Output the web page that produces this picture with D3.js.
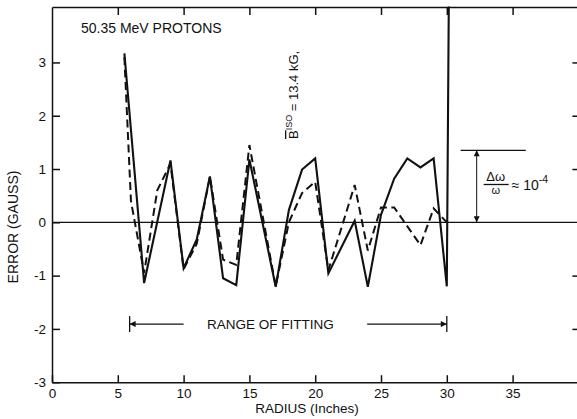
<!DOCTYPE html>
<html>
<head>
<meta charset="utf-8">
<script src="https://cdn.jsdelivr.net/npm/d3@7"></script>
<style>
  body { margin: 0; background: #fff; }
  svg { display: block; }
  text { font-family: "Liberation Sans", Arial, sans-serif; fill: #111; }
  .axis path, .axis line { stroke: #111; stroke-width: 1.5; }
  .axis text { font-size: 13.5px; fill: #111; }
</style>
</head>
<body>
<script>
// error curves (radius in inches, error in gauss)
var solidRadius = [5.5, 7, 9, 10, 11, 12, 13, 14, 15, 17, 18, 19, 20, 21, 23, 24, 25, 26, 27, 28, 29, 30, 30.15];
var solidError  = [3.17, -1.14, 1.16, -0.86, -0.32, 0.86, -1.05, -1.18, 1.18, -1.21, 0.23, 0.99, 1.2, -0.96, 0.03, -1.21, 0.14, 0.82, 1.2, 1.03, 1.2, -1.2, 4.05];

var dashedRadius = [5.5, 6, 7, 8, 9, 10, 11, 12, 13, 14, 15, 17, 18, 19, 20, 21, 23, 24, 25, 26, 28, 29, 30];
var dashedError  = [3.1, 0.4, -0.95, 0.6, 1.1, -0.88, -0.4, 0.86, -0.7, -0.8, 1.45, -1.2, 0.0, 0.55, 0.76, -0.9, 0.7, -0.53, 0.28, 0.28, -0.43, 0.26, 0.0];

var xTicks = [0, 5, 10, 15, 20, 25, 30, 35];
var yTicks = [-3, -2, -1, 0, 1, 2, 3];

var fitStart = 5.9, fitEnd = 30;

(function(){

var width = 577, height = 419;

var svg = d3.select("body").append("svg")
    .attr("width", width)
    .attr("height", height);

var x = d3.scaleLinear().domain([0, 40]).range([52, 578.4]);
var y = d3.scaleLinear().domain([-3, 4.04]).range([382.2, 7]);

//arrow head marker
svg.append("defs").append("marker")
    .attr("id", "head")
    .attr("viewBox", "0 0 10 10")
    .attr("refX", 10).attr("refY", 5)
    .attr("markerWidth", 10).attr("markerHeight", 6)
    .attr("markerUnits", "userSpaceOnUse")
    .attr("orient", "auto-start-reverse")
    .append("path")
    .attr("d", "M0,0L10,5L0,10z")
    .attr("fill", "#111");

//axes: ticks point inward like the original plate
svg.append("g").attr("class", "axis")
    .attr("transform", "translate(" + x(0) + ",0)")
    .call(d3.axisLeft(y).tickValues(yTicks).tickSizeInner(-8).tickSizeOuter(0)
        .tickPadding(6).tickFormat(function(d){ return String(d); }));

svg.append("g").attr("class", "axis")
    .attr("transform", "translate(0," + y(-3) + ")")
    .call(d3.axisBottom(x).tickValues(xTicks).tickSizeInner(-7).tickSizeOuter(0)
        .tickPadding(6).tickFormat(function(d){ return String(d); }));

svg.append("g").attr("class", "axis")
    .attr("transform", "translate(0," + y(4.04) + ")")
    .call(d3.axisTop(x).tickValues(xTicks.slice(1)).tickSizeInner(-8).tickSizeOuter(0)
        .tickFormat(""));

svg.append("g").attr("class", "axis")
    .attr("transform", "translate(" + x(40) + ",0)")
    .call(d3.axisRight(y).tickValues([-2, -1, 1, 2, 3]).tickSizeInner(-6).tickSizeOuter(0)
        .tickFormat(""));

//zero line
svg.append("line")
    .attr("x1", x(0)).attr("x2", x(40))
    .attr("y1", y(0)).attr("y2", y(0))
    .attr("stroke", "#111").attr("stroke-width", 1.3);

var line = d3.line()
    .x(function(d){ return x(d[0]); })
    .y(function(d){ return y(d[1]); });

var dashed = d3.zip(dashedRadius, dashedError);
var solid = d3.zip(solidRadius, solidError);

svg.append("path")
    .datum(dashed)
    .attr("d", line)
    .attr("fill", "none")
    .attr("stroke", "#111")
    .attr("stroke-width", 2)
    .attr("stroke-dasharray", "8,4.5");

svg.append("path")
    .datum(solid)
    .attr("d", line)
    .attr("fill", "none")
    .attr("stroke", "#111")
    .attr("stroke-width", 2.1)
    .attr("stroke-linejoin", "miter");

//range of fitting
var fy = y(-1.91);
[fitStart, fitEnd].forEach(function(v){
    svg.append("line")
        .attr("x1", x(v)).attr("x2", x(v))
        .attr("y1", fy - 8).attr("y2", fy + 8)
        .attr("stroke", "#111").attr("stroke-width", 1.3);
});
svg.append("line")
    .attr("x1", x(10)).attr("x2", x(fitStart))
    .attr("y1", fy).attr("y2", fy)
    .attr("stroke", "#111").attr("stroke-width", 1.3)
    .attr("marker-end", "url(#head)");
svg.append("line")
    .attr("x1", x(23.95)).attr("x2", x(fitEnd))
    .attr("y1", fy).attr("y2", fy)
    .attr("stroke", "#111").attr("stroke-width", 1.3)
    .attr("marker-end", "url(#head)");
svg.append("text")
    .attr("x", x(16.6)).attr("y", fy + 5)
    .attr("text-anchor", "middle")
    .style("font-size", "13.5px")
    .text("RANGE OF FITTING");

//frequency error bracket
svg.append("line")
    .attr("x1", x(31.05)).attr("x2", x(36))
    .attr("y1", y(1.35)).attr("y2", y(1.35))
    .attr("stroke", "#111").attr("stroke-width", 1.3);
svg.append("line")
    .attr("x1", x(32.27)).attr("x2", x(32.27))
    .attr("y1", y(1.35)).attr("y2", y(0))
    .attr("stroke", "#111").attr("stroke-width", 1)
    .attr("marker-start", "url(#head)")
    .attr("marker-end", "url(#head)");

var fx = x(32.27) + 7;
svg.append("text").attr("x", fx + 12).attr("y", 181)
    .attr("text-anchor", "middle").style("font-size", "13px").text("Δω");
svg.append("line")
    .attr("x1", fx).attr("x2", fx + 25)
    .attr("y1", 184.5).attr("y2", 184.5)
    .attr("stroke", "#111").attr("stroke-width", 1.3);
svg.append("text").attr("x", fx + 12).attr("y", 194)
    .attr("text-anchor", "middle").style("font-size", "11px").text("ω");
var eq = svg.append("text").attr("x", fx + 28).attr("y", 190)
    .style("font-size", "14px");
eq.append("tspan").text("≈ 10");
eq.append("tspan").attr("dy", -7).style("font-size", "10.5px").text("-4");

//field label, rotated
var bl = svg.append("text")
    .attr("transform", "translate(298,139) rotate(-90)")
    .style("font-size", "13px");
bl.append("tspan").style("text-decoration", "overline").text("B");
bl.append("tspan").attr("dy", -6).style("font-size", "9px").text("ISO");
bl.append("tspan").attr("dy", 6).text(" = 13.4 kG,");

//title and axis labels
svg.append("text")
    .attr("x", 81).attr("y", 33)
    .style("font-size", "14px")
    .text("50.35  MeV  PROTONS");

svg.append("text")
    .attr("transform", "translate(18,227) rotate(-90)")
    .attr("text-anchor", "middle")
    .style("font-size", "14px")
    .text("ERROR (GAUSS)");

svg.append("text")
    .attr("x", 307).attr("y", 413)
    .attr("text-anchor", "middle")
    .style("font-size", "13.5px")
    .text("RADIUS (Inches)");

})();
</script>
</body>
</html>
